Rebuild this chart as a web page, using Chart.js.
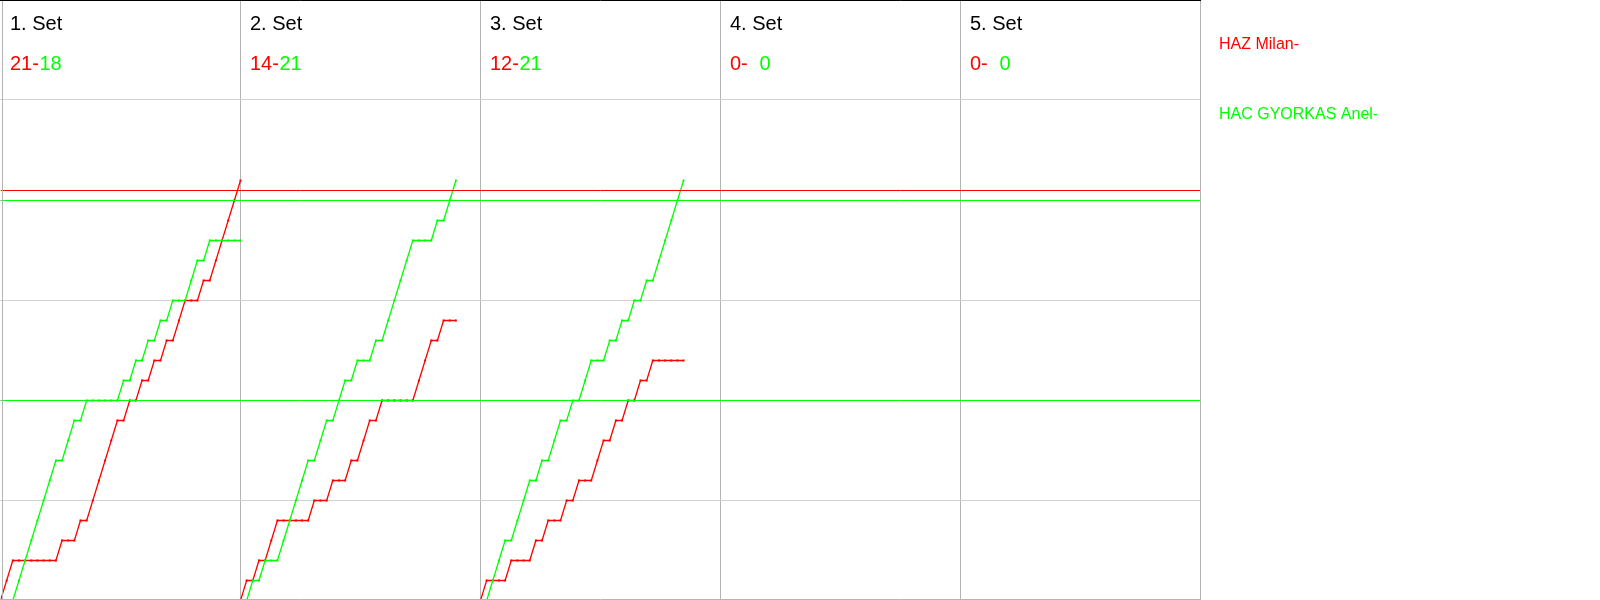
<!DOCTYPE html>
<html>
<head>
<meta charset="utf-8">
<script src="https://cdn.jsdelivr.net/npm/chart.js@4.4.1/dist/chart.umd.min.js"></script>
<style>
html,body{margin:0;padding:0;background:#fff;}
#wrap{width:1600px;height:600px;position:relative;}
</style>
</head>
<body>
<div id="wrap"><canvas id="c"></canvas></div>
<script>
// ---- data ----
const playerNames = ['HAZ Milan-', 'HAC GYORKAS Anel-'];
const playerColors = ['#ff0000', '#00ff00'];
const setLabels = ['1. Set', '2. Set', '3. Set', '4. Set', '5. Set'];
const setScoresRed = [21, 14, 12, 0, 0];
const setScoresGreen = [18, 21, 21, 0, 0];
const ralliesPerSet = 39;
const yMax = 30;
const yStep = 5;

// cumulative score after each rally (index = rally number)
const set1Red   = [0,1,2,2,2,2,2,2,2,2, 3,3,3,4,4,5,6,7,8,9, 9,10,10,11,11,12,12,13,13,14, 15,15,15,16,16,17,18,19,20,21];
const set1Green = [0,0,0,1,2,3,4,5,6,7, 7,8,9,9,10,10,10,10,10,10, 11,11,12,12,13,13,14,14,15,15, 15,16,17,17,18,18,18,18,18,18];
const set2Red   = [0,1,1,2,2,3,4,4,4,4, 4,4,5,5,5,6,6,6,7,7, 8,9,9,10,10,10,10,10,10,11, 12,13,13,14,14,14];
const set2Green = [0,0,1,1,2,2,2,3,4,5, 6,7,7,8,9,9,10,11,11,12, 12,12,13,13,14,15,16,17,18,18, 18,18,19,19,20,21];
const set3Red   = [0,1,1,1,1,2,2,2,2,3, 3,4,4,4,5,5,6,6,6,7, 8,8,9,9,10,10,11,11,12,12, 12,12,12,12];
const set3Green = [0,0,1,2,3,3,4,5,6,6, 7,7,8,9,9,10,10,11,12,12, 12,13,13,14,14,15,15,16,16,17, 18,19,20,21];
const set4Red = [], set4Green = [];
const set5Red = [], set5Green = [];

const redLevels = [20.5];
const greenLevels = [20, 10];

const redSeries = [set1Red, set2Red, set3Red, set4Red, set5Red];
const greenSeries = [set1Green, set2Green, set3Green, set4Green, set5Green];

// ---- build datasets ----
const xMax = ralliesPerSet * setLabels.length;
const datasets = [];
function levelDs(v, color) {
  return { data: [{x: 0, y: v}, {x: xMax, y: v}], borderColor: color, borderWidth: 1,
           pointRadius: 0, fill: false, tension: 0 };
}
redLevels.forEach(v => datasets.push(levelDs(v, playerColors[0])));
greenLevels.forEach(v => datasets.push(levelDs(v, playerColors[1])));
function seriesDs(arr, s, color) {
  return { data: arr.map((v, i) => ({x: s * ralliesPerSet + i, y: v})), borderColor: color,
           backgroundColor: color, borderWidth: 1.3, pointRadius: 1.4, pointStyle: 'rect',
           pointBorderWidth: 0, pointBackgroundColor: color, fill: false, tension: 0 };
}
for (let s = 0; s < setLabels.length; s++) {
  datasets.push(seriesDs(greenSeries[s], s, playerColors[1]));
  datasets.push(seriesDs(redSeries[s], s, playerColors[0]));
}

const FONT = '"Liberation Sans", Arial, sans-serif';
const decor = {
  id: 'decor',
  beforeDatasetsDraw(chart) {
    chart.ctx.save();
    chart.ctx.translate(0.5, 0.5);
  },
  afterDatasetsDraw(chart) {
    chart.ctx.restore();
  },
  afterDraw(chart) {
    const ctx = chart.ctx, a = chart.chartArea, xs = chart.scales.x;
    ctx.save();
    // borders
    ctx.lineWidth = 1;
    ctx.strokeStyle = '#b4b4b4';
    ctx.beginPath();
    ctx.moveTo(2.5, 0); ctx.lineTo(2.5, 600);
    ctx.moveTo(0, 599.5); ctx.lineTo(a.right + 1, 599.5);
    ctx.moveTo(a.right + 0.5, 0); ctx.lineTo(a.right + 0.5, 600);
    ctx.stroke();
    ctx.strokeStyle = '#000';
    ctx.beginPath();
    ctx.moveTo(0, 0.5); ctx.lineTo(a.right + 1, 0.5);
    ctx.stroke();
    // set headers
    ctx.textBaseline = 'alphabetic';
    ctx.textAlign = 'left';
    for (let s = 0; s < setLabels.length; s++) {
      const x0 = xs.getPixelForValue(s * ralliesPerSet);
      ctx.font = '20px ' + FONT;
      ctx.fillStyle = '#000';
      ctx.fillText(setLabels[s], x0 + 10, 30);
      ctx.fillStyle = playerColors[0];
      ctx.fillText(setScoresRed[s] + '-', x0 + 10, 70);
      ctx.fillStyle = playerColors[1];
      ctx.fillText(String(setScoresGreen[s]), x0 + 39.5, 70);
    }
    // legend
    ctx.font = '16px ' + FONT;
    ctx.fillStyle = playerColors[0];
    ctx.fillText(playerNames[0], 1219, 49);
    ctx.fillStyle = playerColors[1];
    ctx.fillText(playerNames[1], 1219, 119);
    ctx.restore();
  }
};

new Chart(document.getElementById('c'), {
  type: 'line',
  data: { datasets },
  options: {
    responsive: true,
    maintainAspectRatio: false,
    devicePixelRatio: 1,
    animation: false,
    layout: { autoPadding: false, padding: { left: 0, right: 400, top: 0, bottom: 0 } },
    plugins: { legend: { display: false }, tooltip: { enabled: false } },
    scales: {
      x: {
        type: 'linear', min: 0, max: xMax,
        ticks: { display: false },
        border: { display: false },
        grid: { drawTicks: false, color: c => c.index === 0 ? 'rgba(0,0,0,0)' : '#b4b4b4' },
        afterBuildTicks: axis => {
          const t = [];
          for (let v = 0; v <= xMax; v += ralliesPerSet) t.push({value: v});
          axis.ticks = t;
        }
      },
      y: {
        type: 'linear', min: 0, max: yMax,
        ticks: { display: false, stepSize: yStep },
        border: { display: false },
        grid: { drawTicks: false, color: '#d3d3d3' }
      }
    }
  },
  plugins: [decor]
});
</script>
</body>
</html>
